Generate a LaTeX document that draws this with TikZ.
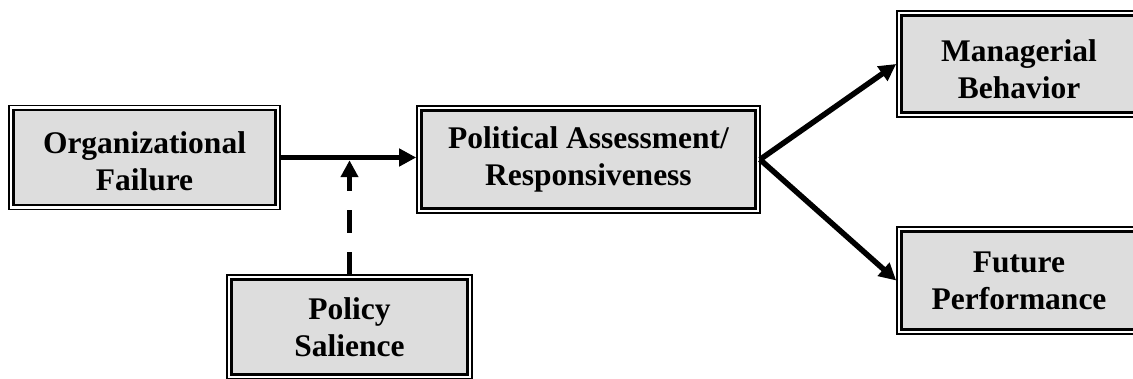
\documentclass[tikz,border=0pt]{standalone}
\usepackage{fontspec}
\setmainfont{Liberation Serif}
\usetikzlibrary{arrows.meta}
\definecolor{boxgray}{RGB}{221,221,221}
\begin{document}
\begin{tikzpicture}[x=1pt,y=-1pt,
  box/.style={draw, line width=2.6pt, fill=boxgray, inner sep=0pt, outer sep=0pt},
  boxtext/.style={inner sep=0pt, align=center, font=\bfseries\fontsize{31.5}{37}\selectfont},
  frame/.style={line width=1.6pt},
  arr/.style={line width=5.5pt, -{Triangle[length=17pt,width=17pt]}},
  dasharr/.style={arr, dash pattern=on 23pt off 19pt}]
\useasboundingbox (0,0) rectangle (1133,379);
\clip (0,0) rectangle (1133,379);

% boxes (inner ruled rectangle with grey fill)
\node[box, minimum width=262pt, minimum height=95pt] (org) at (144.5,157.5) {};
\node[box, minimum width=334pt, minimum height=98pt] (pol) at (588.5,159.5) {};
\node[box, minimum width=235pt, minimum height=97pt] (man) at (1019,64) {};
\node[box, minimum width=235pt, minimum height=98pt] (fut) at (1019,280.5) {};
\node[box, minimum width=236pt, minimum height=95pt] (pal) at (349.5,327) {};

% thin outer rule of each double frame
\foreach \n in {org,pol,man,fut,pal}
  \draw[frame] ([shift={(-4.5pt,4.5pt)}]\n.north west) rectangle ([shift={(4.5pt,-4.5pt)}]\n.south east);

% labels
\node[boxtext] (orgt) at ([yshift=-3.5pt]org.center) {Organizational\\Failure};
\node[boxtext] (polt) at (pol.center) {Political Assessment/\\Responsiveness};
\node[boxtext] (mant) at ([yshift=-5.5pt]man.center) {Managerial\\Behavior};
\node[boxtext] (futt) at (fut.center) {Future\\Performance};
\node[boxtext] (palt) at (pal.center) {Policy\\Salience};

% connectors
\draw[arr] ([xshift=4.5pt]org.east) -- ([xshift=-5.3pt]pol.west |- org.east);
\coordinate (j) at (pal.north |- org.east);
\draw[dasharr] ([yshift=4.5pt]pal.north) -- ([yshift=-2.75pt]j);
\draw[arr] ([xshift=4.5pt]pol.east) -- ([xshift=-5.3pt]man.west);
\draw[arr] ([xshift=4.5pt]pol.east) -- ([xshift=-5.3pt]fut.west);
\end{tikzpicture}
\end{document}
